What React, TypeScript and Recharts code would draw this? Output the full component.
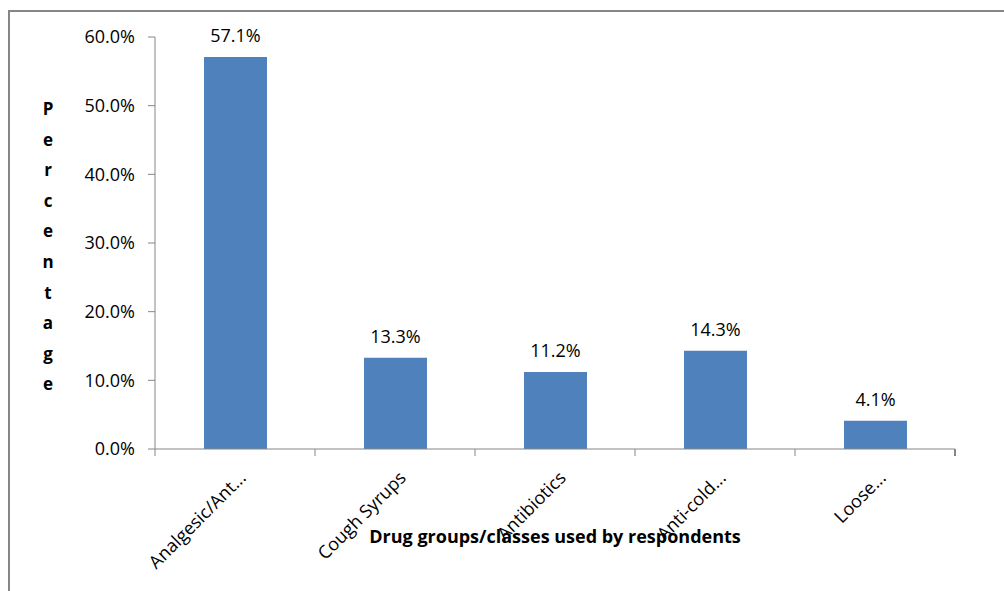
import React from 'react';
import { BarChart, Bar, XAxis, YAxis, LabelList, Label } from 'recharts';

const categories = ['Analgesic/Ant...', 'Cough Syrups', 'Antibiotics', 'Anti-cold...', 'Loose...'];
const percentages = [57.1, 13.3, 11.2, 14.3, 4.1];
const yTicks = [0, 10, 20, 30, 40, 50, 60];
const yTitle = 'Percentage';
const xTitle = 'Drug groups/classes used by respondents';

const data = categories.map((name, i) => ({ name, value: percentages[i] }));

const W = 1004;
const H = 591;
const MARGIN = { top: 37, right: 49, left: 0, bottom: 0 };
const Y_AXIS_W = 155;
const X_AXIS_H = 142;
const BAND = (W - MARGIN.left - MARGIN.right - Y_AXIS_W) / categories.length;

const FONT = '"Open Sans", Lato, sans-serif';
const AXIS = '#868686';
const BAR = '#4F81BD';
const FS = 18;

const pct = (v: number) => `${Number(v).toFixed(1)}%`;

const XTick = (props: any) => {
  const { x, y, payload, index } = props;
  const half = BAND / 2;
  const tx = x + 12;
  const ty = y + 30;
  return (
    <g>
      <line x1={x - half} y1={y} x2={x - half} y2={y + 7} stroke={AXIS} strokeWidth={1} />
      {index === categories.length - 1 && (
        <line x1={x + half} y1={y} x2={x + half} y2={y + 7} stroke={AXIS} strokeWidth={2} />
      )}
      <text
        x={tx}
        y={ty}
        transform={`rotate(-45 ${tx} ${ty})`}
        textAnchor="end"
        fontSize={FS}
        fontFamily={FONT}
        fill="#000"
      >
        {payload.value}
      </text>
    </g>
  );
};

const XTitle = (props: any) => {
  const vb = props.viewBox || {};
  return (
    <text
      x={vb.x + vb.width / 2}
      y={vb.y + 94}
      textAnchor="middle"
      fontSize={18}
      fontWeight="bold"
      fontFamily={FONT}
      fill="#000"
    >
      {xTitle}
    </text>
  );
};

const YTitle = (props: any) => {
  const vb = props.viewBox || {};
  const cx = (vb.x || 0) + 48;
  return (
    <text x={cx} y={115} textAnchor="middle" fontSize={17} fontWeight="bold" fontFamily={FONT} fill="#000">
      {yTitle.split('').map((ch, i) => (
        <tspan key={i} x={cx} dy={i === 0 ? 0 : 30.6}>
          {ch}
        </tspan>
      ))}
    </text>
  );
};

export default function App() {
  return (
    <div style={{ position: 'absolute', left: 0, top: 0, width: W, height: H, overflow: 'hidden', background: '#fff' }}>
      <div
        style={{
          position: 'absolute',
          left: 8,
          top: 10,
          width: 1100,
          height: 700,
          border: `2px solid ${AXIS}`,
        }}
      />
      <div style={{ position: 'absolute', left: 0, top: 0 }}>
        <BarChart width={W} height={H} data={data} margin={MARGIN}>
          <YAxis
            width={Y_AXIS_W}
            domain={[0, 60]}
            ticks={yTicks}
            tickFormatter={pct}
            stroke={AXIS}
            tickSize={7}
            tickMargin={13}
            tick={{ fill: '#000', fontSize: FS, fontFamily: FONT }}
            interval={0}
          >
            <Label content={<YTitle />} />
          </YAxis>
          <XAxis
            dataKey="name"
            height={X_AXIS_H}
            stroke={AXIS}
            tickLine={false}
            tickSize={0}
            tickMargin={0}
            interval={0}
            tick={<XTick />}
          >
            <Label content={<XTitle />} />
          </XAxis>
          <Bar dataKey="value" fill={BAR} barSize={63} isAnimationActive={false}>
            <LabelList dataKey="value" position="top" offset={15} formatter={pct} fill="#000" fontSize={FS} fontFamily={FONT} />
          </Bar>
        </BarChart>
      </div>
    </div>
  );
}
